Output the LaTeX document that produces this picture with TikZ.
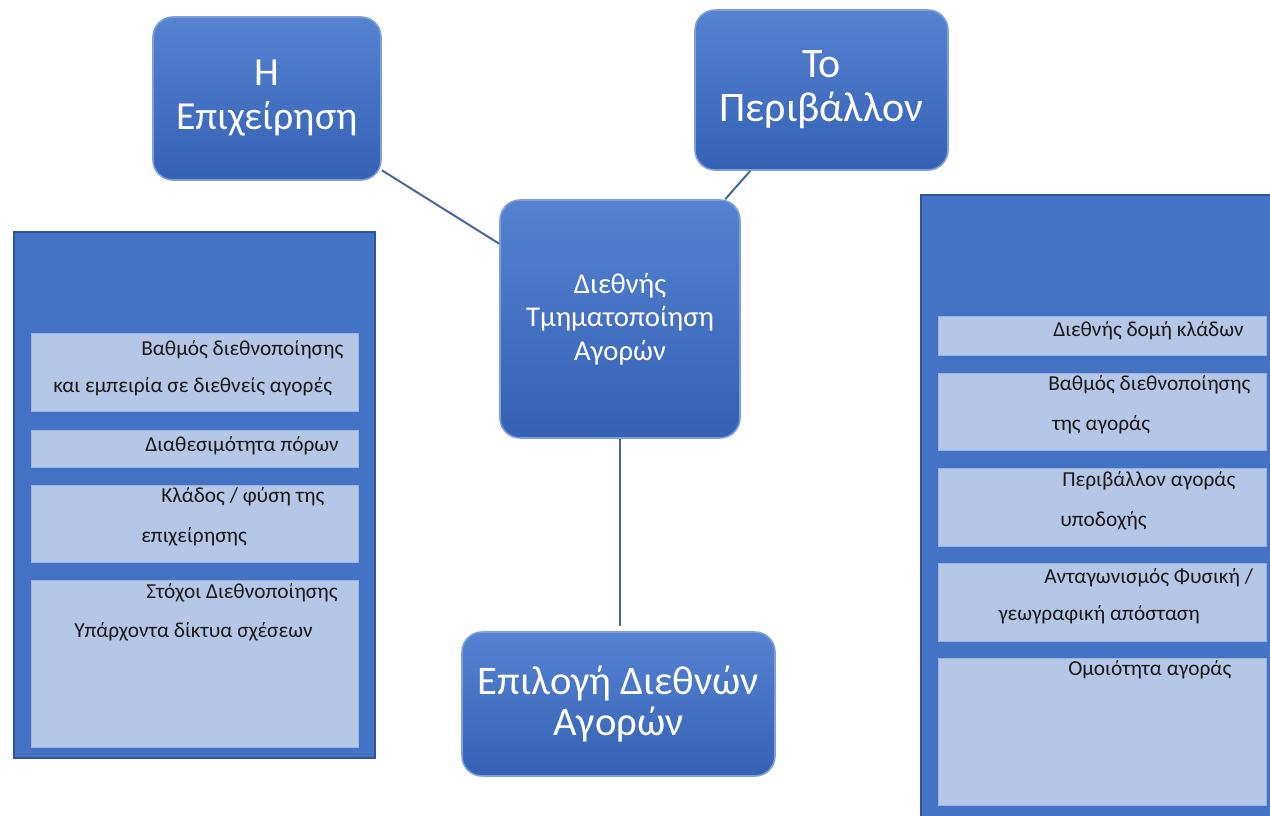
\documentclass[tikz,border=0pt]{standalone}
\usepackage{fontspec}
\setmainfont{Carlito}
\usetikzlibrary{positioning}
\definecolor{panelblue}{HTML}{4472C4}
\definecolor{paneledge}{HTML}{2F5597}
\definecolor{itemfill}{HTML}{B4C7E7}
\definecolor{itemedge}{HTML}{9DB3DC}
\definecolor{boxtop}{HTML}{5682D2}
\definecolor{boxbot}{HTML}{3561B5}
\definecolor{boxedge}{HTML}{7E9FDC}
\definecolor{linkblue}{HTML}{46699A}
\tikzset{
  topic/.style={rounded corners=15pt, top color=boxtop, bottom color=boxbot, draw=boxedge, line width=1.2pt, text=white, align=center, inner sep=0pt},
  panel/.style={fill=panelblue, draw=paneledge, line width=0.8pt},
  item/.style={fill=itemfill, draw=itemedge, line width=0.6pt},
  itemtext/.style={anchor=west, inner sep=0pt, text=black!90, font=\fontsize{16}{19}\selectfont},
  link/.style={draw=linkblue, line width=1.5pt},
}

\begin{document}
\begin{tikzpicture}[x=0.75pt,y=0.75pt,yscale=-1,xscale=1]
\useasboundingbox (0,0) rectangle (1270,815);

%Shape: Left Panel
\draw [panel] (14,232) rectangle (375,758) ;
\draw [item] (31,333) rectangle (358,411) ;
\draw [item] (31,430) rectangle (358,467) ;
\draw [item] (31,485) rectangle (358,562) ;
\draw [item] (31,580) rectangle (358,747) ;
%Shape: Right Panel
\draw [panel] (921,195) rectangle (1274,819) ;
\draw [item] (938,316) rectangle (1266,355) ;
\draw [item] (938,373) rectangle (1266,450) ;
\draw [item] (938,468) rectangle (1266,546) ;
\draw [item] (938,563) rectangle (1266,641) ;
\draw [item] (938,658) rectangle (1266,805) ;

%Shape: Rounded Boxes
\node [topic, minimum width=171pt, minimum height=122.25pt, font=\fontsize{29.8}{33}\selectfont] (firm) at (267,98.5) {Η\\Επιχείρηση};
\node [topic, minimum width=189.75pt, minimum height=120pt, font=\fontsize{31.5}{33}\selectfont] (env) at (821.5,90) {Το\\Περιβάλλον};
\node [topic, minimum width=180pt, minimum height=178.5pt, font=\fontsize{21.5}{25}\selectfont] (seg) at (620,319) {Διεθνής\\Τμηματοποίηση\\Αγορών};
\node [topic, minimum width=234.75pt, minimum height=108pt, font=\fontsize{30.5}{31}\selectfont] (sel) at (618.5,704) {Επιλογή Διεθνών\\Αγορών};

%Straight Lines
\draw [link] (firm) -- (seg) ;
\draw [link] (env) -- (seg) ;
\draw [link, shorten >=3.75pt] (seg.south) -- (seg.south |- sel.north) ;

% Text Node
\node [itemtext] (fa1) at (141,350) {Βαθμός διεθνοποίησης};
% Text Node
\node [itemtext] (fa2) at (53,387) {και εμπειρία σε διεθνείς αγορές};
% Text Node
\node [itemtext] (fb1) at (145,446) {Διαθεσιμότητα πόρων};
% Text Node
\node [itemtext] (fc1) at (161,497) {Κλάδος / φύση της};
% Text Node
\node [itemtext] (fc2) at (141,537) {επιχείρησης};
% Text Node
\node [itemtext] (fd1) at (146,593) {Στόχοι Διεθνοποίησης};
% Text Node
\node [itemtext] (fd2) at (74,632) {Υπάρχοντα δίκτυα σχέσεων};

% Text Node
\node [itemtext] (ea1) at (1053,331) {Διεθνής δομή κλάδων};
% Text Node
\node [itemtext] (eb1) at (1048,385) {Βαθμός διεθνοποίησης};
% Text Node
\node [itemtext] (eb2) at (1052,425) {της αγοράς};
% Text Node
\node [itemtext] (ec1) at (1062,481) {Περιβάλλον αγοράς};
% Text Node
\node [itemtext] (ec2) at (1060,521) {υποδοχής};
% Text Node
\node [itemtext] (ed1) at (1044,578) {Ανταγωνισμός Φυσική /};
% Text Node
\node [itemtext] (ed2) at (998,615) {γεωγραφική απόσταση};
% Text Node
\node [itemtext] (ee1) at (1068,670) {Ομοιότητα αγοράς};

\end{tikzpicture}
\end{document}
